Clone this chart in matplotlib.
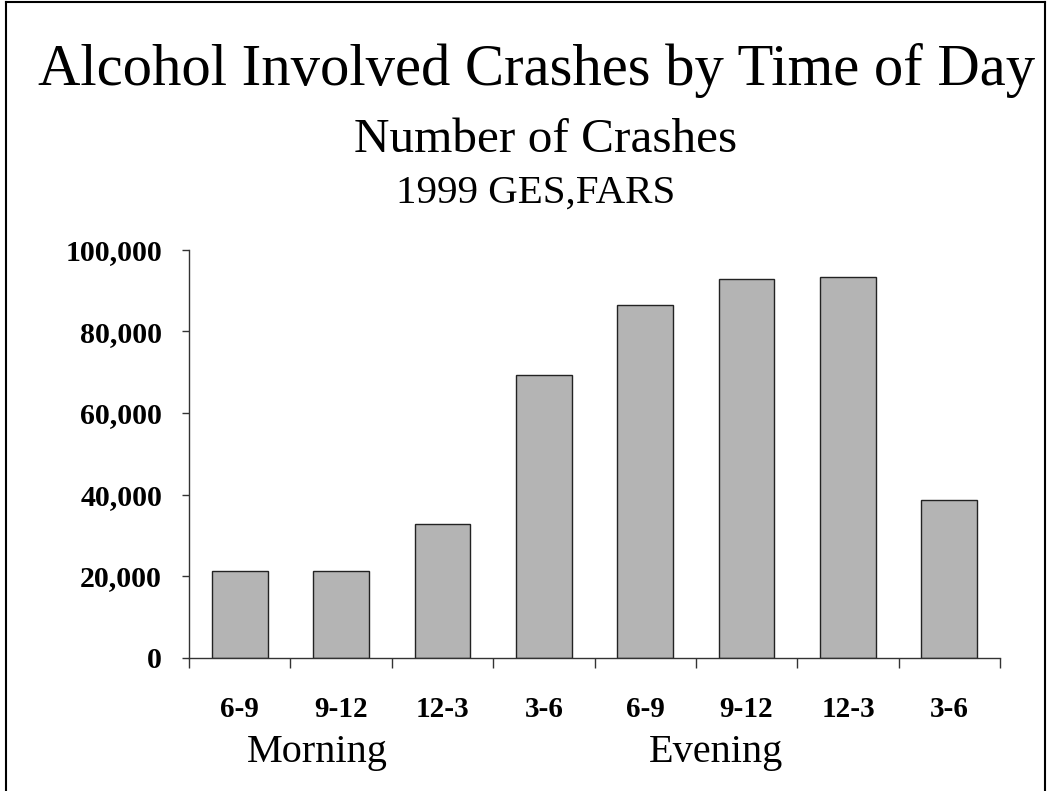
import matplotlib
matplotlib.use("Agg")
import matplotlib.pyplot as plt
from matplotlib.lines import Line2D
from matplotlib.ticker import FuncFormatter

categories = ["6-9", "9-12", "12-3", "3-6", "6-9", "9-12", "12-3", "3-6"]
crashes = [21200, 21200, 32800, 69400, 86600, 93000, 93300, 38600]
yticks = [0, 20000, 40000, 60000, 80000, 100000]

plt.rcParams['font.family'] = ['Liberation Serif', 'DejaVu Serif']

W, H = 1047, 791
fig = plt.figure(figsize=(W/100, H/100), dpi=100)
ax = fig.add_axes([189/W, 1-657.5/H, (1000-189)/W, (657.5-250)/H])

x = list(range(len(categories)))
ax.bar(x, crashes, width=0.55, color='#b4b4b4', edgecolor='#222222', linewidth=1.0, zorder=2)
ax.set_xlim(-0.5, len(categories)-0.5)
ax.set_ylim(0, 100000)
ax.set_yticks(yticks)
ax.yaxis.set_major_formatter(FuncFormatter(lambda v, p: f"{int(v):,}"))
ax.set_xticks([i - 0.5 for i in range(len(categories)+1)])
ax.set_xticklabels([])
ax.set_xticks(x, minor=True)
ax.set_xticklabels(categories, minor=True, fontsize=21, fontweight='bold')
ax.tick_params(axis='x', which='minor', length=0, pad=27.5)
ax.tick_params(axis='x', which='major', direction='out', length=7, width=1, color='#333333')
ax.tick_params(axis='y', direction='out', length=5, width=1, labelsize=21.5, pad=14.4, color='#333333')
for lab in ax.get_yticklabels():
    lab.set_fontweight('bold')
for s in ['top', 'right']:
    ax.spines[s].set_visible(False)
for s in ['left', 'bottom']:
    ax.spines[s].set_linewidth(1)
    ax.spines[s].set_color('#333333')

fig.text(536.5/W, 1-85/H, "Alcohol Involved Crashes by Time of Day", ha='center', va='baseline', fontsize=42.2)
fig.text(546/W, 1-152/H, "Number of Crashes", ha='center', va='baseline', fontsize=35.5)
fig.text(536/W, 1-203/H, "1999 GES,FARS", ha='center', va='baseline', fontsize=29.5)
fig.text(317/W, 1-762/H, "Morning", ha='center', va='baseline', fontsize=29)
fig.text(716/W, 1-762/H, "Evening", ha='center', va='baseline', fontsize=29)

fig.add_artist(Line2D([6/W, 6/W], [0, 1-1.5/H], transform=fig.transFigure, color='black', lw=1.5))
fig.add_artist(Line2D([6/W, 1045/W], [1-1.5/H, 1-1.5/H], transform=fig.transFigure, color='black', lw=1.5))
fig.add_artist(Line2D([1045/W, 1045/W], [0, 1-1.5/H], transform=fig.transFigure, color='black', lw=1.5))

fig.savefig("out.png", dpi=100)
